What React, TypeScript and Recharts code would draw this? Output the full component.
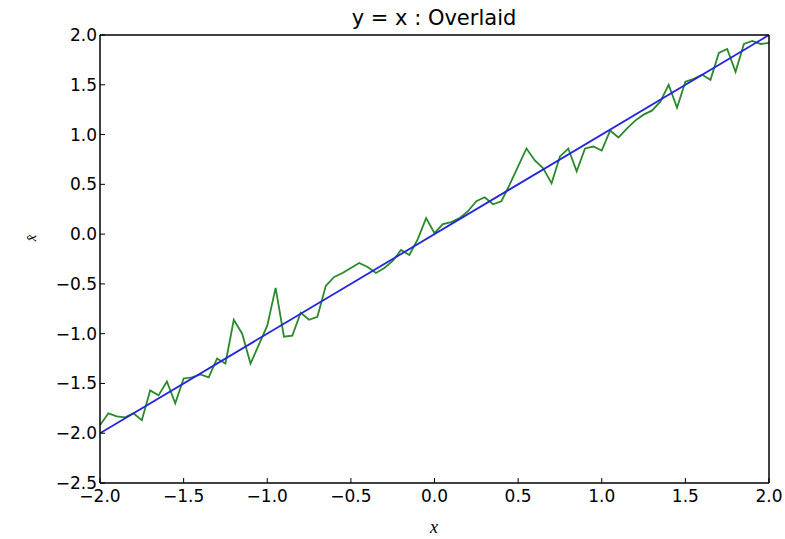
import { Line, LineChart, XAxis, YAxis } from "recharts";

// sample grid for the noisy estimate: -2.0 .. 2.0 in steps of 0.05
const X_START = -2;
const X_STEP = 0.05;

const estimate = [
  -1.92, -1.8, -1.83, -1.84, -1.8, -1.87, -1.57, -1.62, -1.48, -1.7,
  -1.45, -1.44, -1.41, -1.44, -1.25, -1.3, -0.86, -1.0, -1.3, -1.11,
  -0.92, -0.54, -1.03, -1.02, -0.79, -0.86, -0.83, -0.52, -0.43, -0.39,
  -0.34, -0.29, -0.33, -0.39, -0.34, -0.27, -0.16, -0.21, -0.05, 0.16,
  0.01, 0.1, 0.12, 0.16, 0.23, 0.33, 0.37, 0.3, 0.33, 0.5,
  0.68, 0.86, 0.74, 0.66, 0.51, 0.78, 0.86, 0.63, 0.86, 0.88,
  0.84, 1.04, 0.97, 1.06, 1.14, 1.2, 1.24, 1.33, 1.5, 1.27,
  1.53, 1.56, 1.6, 1.55, 1.82, 1.86, 1.63, 1.91, 1.94, 1.91,
  1.92,
];

// y = x reference, end points only
const identityX = [-2, 2];
const identityY = [-2, 2];

const xTicks = [-2, -1.5, -1, -0.5, 0, 0.5, 1, 1.5, 2];
const yTicks = [-2.5, -2, -1.5, -1, -0.5, 0, 0.5, 1, 1.5, 2];

const noisy = estimate.map((v, i) => ({
  x: +(X_START + i * X_STEP).toFixed(2),
  v,
}));
const identity = identityX.map((x, i) => ({ x, v: identityY[i] }));

const FONT = "'DejaVu Sans', sans-serif";
const fmt = (n: number) => n.toFixed(1).replace("-", "\u2212");

const tickStyle = { fill: "#000", fontSize: 17, fontFamily: FONT };
const frame = { stroke: "#000", strokeWidth: 1.5 };
const TICK = -5; // negative size -> tick marks point into the plot

// bottom labels sit a little lower so they clear the lowest y label
const XTick = ({ x, y, payload }: any) => (
  <text x={x} y={y + 16} textAnchor="middle" {...tickStyle}>
    {fmt(payload.value)}
  </text>
);

export default function App() {
  return (
    <div style={{ position: "absolute", left: 0, top: 0, background: "#fff" }}>
      <LineChart
        width={785}
        height={539}
        margin={{ top: 34, right: 15, bottom: 0, left: 0 }}
      >
        <text
          x={434}
          y={25}
          textAnchor="middle"
          fontSize={21}
          fontFamily={FONT}
          fill="#000"
        >
          y = x : Overlaid
        </text>
        <text
          x={434}
          y={533}
          textAnchor="middle"
          fontSize={18}
          fontStyle="italic"
          fontFamily="'Liberation Serif', serif"
          fill="#000"
        >
          x
        </text>
        <text
          x={0}
          y={0}
          transform="translate(36 238) rotate(-90)"
          textAnchor="middle"
          fontSize={15}
          fontStyle="italic"
          fontFamily="'Liberation Serif', serif"
          fill="#000"
        >
          x̂
        </text>

        <XAxis
          xAxisId="b"
          type="number"
          dataKey="x"
          domain={[-2, 2]}
          ticks={xTicks}
          tickSize={TICK}
          tickMargin={8}
          tickLine={{ stroke: "#000" }}
          tick={<XTick />}
          height={56}
          axisLine={frame}
          allowDataOverflow
        />
        <XAxis
          xAxisId="t"
          orientation="top"
          type="number"
          dataKey="x"
          domain={[-2, 2]}
          ticks={xTicks}
          height={1}
          tick={false}
          tickSize={TICK}
          tickLine={{ stroke: "#000" }}
          axisLine={frame}
        />
        <YAxis
          yAxisId="l"
          type="number"
          domain={[-2.5, 2]}
          ticks={yTicks}
          tickFormatter={fmt}
          tickSize={TICK}
          tickMargin={8}
          tickLine={{ stroke: "#000" }}
          tick={tickStyle}
          width={100}
          axisLine={frame}
          allowDataOverflow
        />
        <YAxis
          yAxisId="r"
          orientation="right"
          type="number"
          domain={[-2.5, 2]}
          ticks={yTicks}
          width={1}
          tick={false}
          tickSize={TICK}
          tickLine={{ stroke: "#000" }}
          axisLine={frame}
        />

        <Line
          xAxisId="b"
          yAxisId="l"
          data={noisy}
          dataKey="v"
          stroke="#2a8a2a"
          strokeWidth={1.8}
          dot={false}
          isAnimationActive={false}
        />
        <Line
          xAxisId="b"
          yAxisId="l"
          data={identity}
          dataKey="v"
          stroke="#2424e0"
          strokeWidth={1.8}
          dot={false}
          isAnimationActive={false}
        />
      </LineChart>
    </div>
  );
}
